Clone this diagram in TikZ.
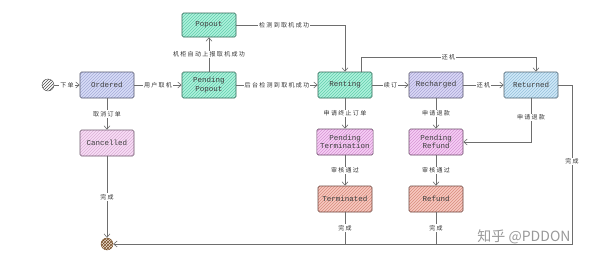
\documentclass[tikz,border=0pt]{standalone}
\usepackage{fontspec}
\setmonofont{Liberation Mono}
\newfontfamily\cjk[LetterSpace=22]{Noto Sans CJK SC}
\newfontfamily\cjkmark{Noto Sans CJK SC}
\usetikzlibrary{arrows.meta,patterns}
\definecolor{ordcol}{HTML}{B8BFF0}
\definecolor{aquacol}{HTML}{6EE6C0}
\definecolor{lavcol}{HTML}{BDB8EE}
\definecolor{retcol}{HTML}{A8D6F2}
\definecolor{pendcol}{HTML}{EFA6EC}
\definecolor{cancol}{HTML}{F3C2EE}
\definecolor{endcol}{HTML}{F09C8C}
\definecolor{linecol}{HTML}{6E6E6E}
\begin{document}
\begin{tikzpicture}[
    x=1pt, y=-1pt,
    state/.style={draw=#1!45!black, rounded corners=1.5pt, minimum width=54pt, minimum height=26pt,
      align=center, font=\ttfamily\fontsize{7.5}{8.5}\selectfont, text=black!75, line width=0.6pt,
      preaction={fill=#1!55}, pattern=north east lines, pattern color=#1!90!black},
    lbl/.style={fill=white, inner sep=1pt, font=\cjk\fontsize{6}{7}\selectfont, text=black!80},
    arr/.style={draw=linecol, line width=0.6pt, -{Straight Barb[length=3.5pt,width=6pt]}},
    conn/.style={draw=linecol, line width=0.6pt}
]
\useasboundingbox (0,0) rectangle (600,263);

% start and end
\node[circle, draw=black!70, minimum size=12pt, inner sep=0pt, pattern=north east lines, pattern color=black!70] (start) at (48,85) {};
\node[circle, draw=brown!60!black, minimum size=12pt, inner sep=0pt, preaction={fill=brown!25}, pattern=crosshatch, pattern color=brown!60!black] (finish) at (107,244) {};

% ordering
\node[state=ordcol] (ordered) at (107,85) {Ordered};
\node[state=cancol] (cancelled) at (107,143) {Cancelled};

% pick up
\node[state=aquacol] (pendpop) at (209,85) {Pending\\Popout};
\node[state=aquacol, minimum height=24pt] (popout) at (209,25) {Popout};

% renting
\node[state=aquacol] (renting) at (345,85) {Renting};
\node[state=lavcol] (recharged) at (436,85) {Recharged};
\node[state=retcol] (returned) at (531,85) {Returned};

% termination and refund
\node[state=pendcol] (pendterm) at (345,142) {Pending\\Termination};
\node[state=pendcol] (pendrefund) at (436,142) {Pending\\Refund};
\node[state=endcol] (terminated) at (345,199) {Terminated};
\node[state=endcol] (refund) at (436,199) {Refund};

\coordinate (corner) at (572,244);

% arrows
\draw[arr] (start) -- node[lbl]{下单} (ordered);
\draw[arr] (ordered) -- node[lbl]{用户取机} (pendpop);
\draw[arr] (ordered) -- node[lbl]{取消订单} (cancelled);
\draw[arr] (cancelled) -- node[lbl, pos=0.5]{完成} (finish);
\draw[arr] (pendpop) -- node[lbl]{机柜自动上报取机成功} (popout);
\draw[arr] (popout) -| node[lbl, pos=0.22]{检测到取机成功} (renting);
\draw[arr] (pendpop) -- node[lbl]{后台检测到取机成功} (renting);
\draw[arr] (renting) -- node[lbl]{续订} (recharged);
\draw[arr] (recharged) -- node[lbl]{还机} (returned);
\draw[arr] ([xshift=16pt]renting.north) -- ++(0,-14) -| node[lbl, pos=0.25]{还机} ([xshift=5pt]returned.north);
\draw[arr] (renting) -- node[lbl]{申请终止订单} (pendterm);
\draw[arr] (recharged) -- node[lbl]{申请退款} (pendrefund);
\draw[arr] (returned) |- node[lbl, pos=0.22]{申请退款} (pendrefund);
\draw[arr] (pendterm) -- node[lbl]{审核通过} (terminated);
\draw[arr] (pendrefund) -- node[lbl]{审核通过} (refund);
\draw[arr] (returned.east) -| node[lbl, pos=0.74]{完成} (corner) -- (finish);
\draw[conn] (terminated) -- node[lbl]{完成} (terminated |- corner);
\draw[conn] (refund) -- node[lbl]{完成} (refund |- corner);

% watermark
\node[font=\cjkmark\fontsize{14}{14}\selectfont, text=black!40] (mark) at (524,237) {知乎 @PDDON};
\end{tikzpicture}
\end{document}
